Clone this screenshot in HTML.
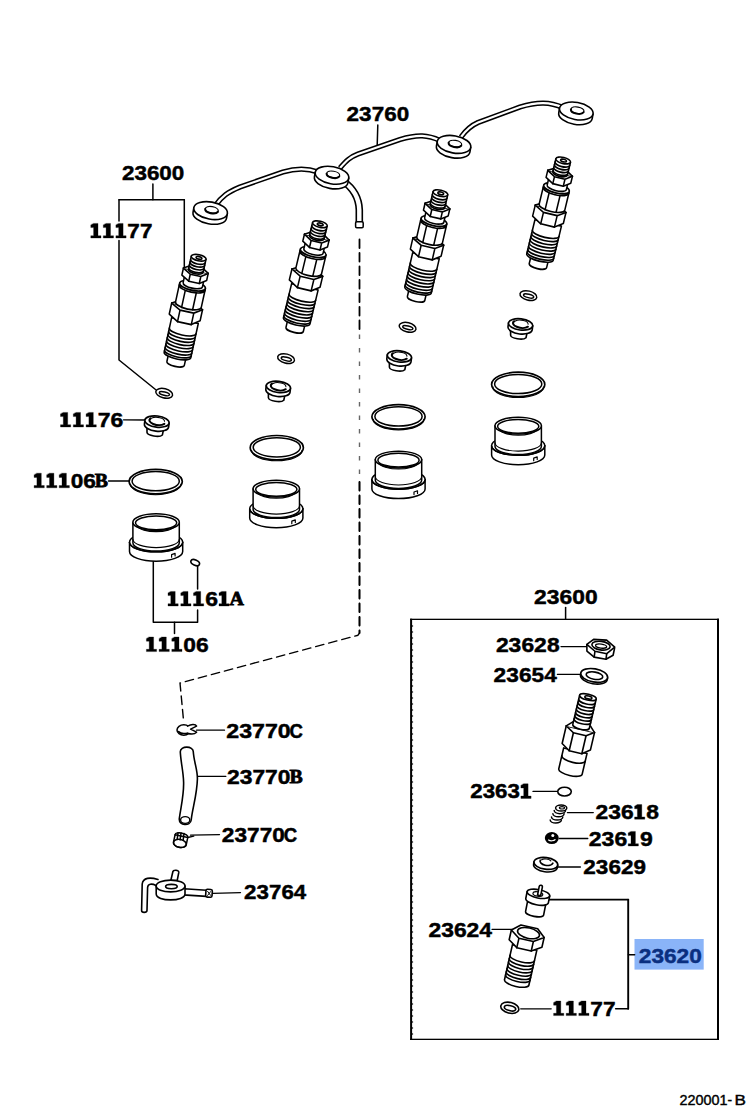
<!DOCTYPE html>
<html><head><meta charset="utf-8"><title>23600 diagram</title>
<style>
html,body{margin:0;padding:0;background:#fff;}
body{width:756px;height:1108px;overflow:hidden;font-family:"Liberation Sans",sans-serif;}
svg{display:block;}
svg text{font-family:"Liberation Sans",sans-serif;font-weight:bold;}
svg text.sf{font-family:"Liberation Serif",serif;stroke-width:0.8px;}
</style></head><body>
<svg width="756" height="1108" viewBox="0 0 756 1108" fill="none" stroke="#000" stroke-width="1.3" stroke-linecap="round" stroke-linejoin="round">
<rect x="0" y="0" width="756" height="1108" fill="#fff" stroke="none"/>
<g stroke="#000" stroke-width="0.45" fill="#000" stroke-linejoin="miter">
<rect x="634.5" y="939" width="69.2" height="30.6" fill="#8ab4f8" stroke="none"/>
<g fill="#000" stroke="#000"><text x="121.9" y="179.8" font-size="20.4" textLength="12.5" lengthAdjust="spacingAndGlyphs">2</text><text x="134.4" y="179.8" font-size="20.4" textLength="12.5" lengthAdjust="spacingAndGlyphs">3</text><text x="146.9" y="179.8" font-size="20.4" textLength="12.5" lengthAdjust="spacingAndGlyphs">6</text><text x="159.3" y="179.8" font-size="20.4" textLength="12.5" lengthAdjust="spacingAndGlyphs">0</text><text x="171.8" y="179.8" font-size="20.4" textLength="12.5" lengthAdjust="spacingAndGlyphs">0</text></g>
<g fill="#000" stroke="#000"><path stroke-width="0.3" d="M93.6,223.4 L98.0,223.4 L98.0,235.7 L101.0,235.7 L101.0,238.0 L90.8,238.0 L90.8,235.7 L93.6,235.7 L93.6,227.6 L90.8,227.6 L90.8,225.1Z"/><path stroke-width="0.3" d="M106.1,223.4 L110.5,223.4 L110.5,235.7 L113.5,235.7 L113.5,238.0 L103.3,238.0 L103.3,235.7 L106.1,235.7 L106.1,227.6 L103.3,227.6 L103.3,225.1Z"/><path stroke-width="0.3" d="M118.7,223.4 L123.1,223.4 L123.1,235.7 L126.1,235.7 L126.1,238.0 L115.9,238.0 L115.9,235.7 L118.7,235.7 L118.7,227.6 L115.9,227.6 L115.9,225.1Z"/><text x="127.3" y="238.0" font-size="20.4" textLength="12.5" lengthAdjust="spacingAndGlyphs">7</text><text x="139.9" y="238.0" font-size="20.4" textLength="12.5" lengthAdjust="spacingAndGlyphs">7</text></g>
<g fill="#000" stroke="#000"><text x="346.6" y="120.8" font-size="20.4" textLength="12.5" lengthAdjust="spacingAndGlyphs">2</text><text x="359.1" y="120.8" font-size="20.4" textLength="12.5" lengthAdjust="spacingAndGlyphs">3</text><text x="371.7" y="120.8" font-size="20.4" textLength="12.5" lengthAdjust="spacingAndGlyphs">7</text><text x="384.2" y="120.8" font-size="20.4" textLength="12.5" lengthAdjust="spacingAndGlyphs">6</text><text x="396.8" y="120.8" font-size="20.4" textLength="12.5" lengthAdjust="spacingAndGlyphs">0</text></g>
<g fill="#000" stroke="#000"><path stroke-width="0.3" d="M63.3,412.4 L67.7,412.4 L67.7,424.7 L70.7,424.7 L70.7,427.0 L60.5,427.0 L60.5,424.7 L63.3,424.7 L63.3,416.6 L60.5,416.6 L60.5,414.1Z"/><path stroke-width="0.3" d="M76.1,412.4 L80.5,412.4 L80.5,424.7 L83.5,424.7 L83.5,427.0 L73.3,427.0 L73.3,424.7 L76.1,424.7 L76.1,416.6 L73.3,416.6 L73.3,414.1Z"/><path stroke-width="0.3" d="M88.9,412.4 L93.3,412.4 L93.3,424.7 L96.3,424.7 L96.3,427.0 L86.1,427.0 L86.1,424.7 L88.9,424.7 L88.9,416.6 L86.1,416.6 L86.1,414.1Z"/><text x="97.8" y="427.0" font-size="20.4" textLength="12.8" lengthAdjust="spacingAndGlyphs">7</text><text x="110.6" y="427.0" font-size="20.4" textLength="12.8" lengthAdjust="spacingAndGlyphs">6</text></g>
<g fill="#000" stroke="#000"><path stroke-width="0.3" d="M36.9,473.2 L41.3,473.2 L41.3,485.5 L44.3,485.5 L44.3,487.8 L34.1,487.8 L34.1,485.5 L36.9,485.5 L36.9,477.4 L34.1,477.4 L34.1,474.9Z"/><path stroke-width="0.3" d="M49.5,473.2 L53.9,473.2 L53.9,485.5 L56.9,485.5 L56.9,487.8 L46.7,487.8 L46.7,485.5 L49.5,485.5 L49.5,477.4 L46.7,477.4 L46.7,474.9Z"/><path stroke-width="0.3" d="M62.0,473.2 L66.4,473.2 L66.4,485.5 L69.4,485.5 L69.4,487.8 L59.2,487.8 L59.2,485.5 L62.0,485.5 L62.0,477.4 L59.2,477.4 L59.2,474.9Z"/><text x="70.7" y="487.8" font-size="20.4" textLength="12.6" lengthAdjust="spacingAndGlyphs">0</text><text x="83.2" y="487.8" font-size="20.4" textLength="12.6" lengthAdjust="spacingAndGlyphs">6</text><text class="sf" x="94.7" y="487.2" font-size="19" textLength="13.2" lengthAdjust="spacingAndGlyphs">B</text></g>
<g fill="#000" stroke="#000"><path stroke-width="0.3" d="M170.8,591.4 L175.2,591.4 L175.2,603.7 L178.2,603.7 L178.2,606.0 L168.0,606.0 L168.0,603.7 L170.8,603.7 L170.8,595.6 L168.0,595.6 L168.0,593.1Z"/><path stroke-width="0.3" d="M183.6,591.4 L188.0,591.4 L188.0,603.7 L191.0,603.7 L191.0,606.0 L180.8,606.0 L180.8,603.7 L183.6,603.7 L183.6,595.6 L180.8,595.6 L180.8,593.1Z"/><path stroke-width="0.3" d="M196.3,591.4 L200.7,591.4 L200.7,603.7 L203.7,603.7 L203.7,606.0 L193.5,606.0 L193.5,603.7 L196.3,603.7 L196.3,595.6 L193.5,595.6 L193.5,593.1Z"/><text x="205.2" y="606.0" font-size="20.4" textLength="12.8" lengthAdjust="spacingAndGlyphs">6</text><path stroke-width="0.3" d="M221.8,591.4 L226.2,591.4 L226.2,603.7 L229.2,603.7 L229.2,606.0 L219.0,606.0 L219.0,603.7 L221.8,603.7 L221.8,595.6 L219.0,595.6 L219.0,593.1Z"/><text class="sf" x="229.6" y="605.4" font-size="19" textLength="14.4" lengthAdjust="spacingAndGlyphs">A</text></g>
<g fill="#000" stroke="#000"><path stroke-width="0.3" d="M149.2,637.0 L153.6,637.0 L153.6,649.3 L156.6,649.3 L156.6,651.6 L146.4,651.6 L146.4,649.3 L149.2,649.3 L149.2,641.2 L146.4,641.2 L146.4,638.7Z"/><path stroke-width="0.3" d="M161.9,637.0 L166.3,637.0 L166.3,649.3 L169.3,649.3 L169.3,651.6 L159.1,651.6 L159.1,649.3 L161.9,649.3 L161.9,641.2 L159.1,641.2 L159.1,638.7Z"/><path stroke-width="0.3" d="M174.6,637.0 L179.0,637.0 L179.0,649.3 L182.0,649.3 L182.0,651.6 L171.8,651.6 L171.8,649.3 L174.6,649.3 L174.6,641.2 L171.8,641.2 L171.8,638.7Z"/><text x="183.3" y="651.6" font-size="20.4" textLength="12.7" lengthAdjust="spacingAndGlyphs">0</text><text x="196.0" y="651.6" font-size="20.4" textLength="12.7" lengthAdjust="spacingAndGlyphs">6</text></g>
<g fill="#000" stroke="#000"><text x="226.3" y="738.0" font-size="20.4" textLength="12.9" lengthAdjust="spacingAndGlyphs">2</text><text x="239.2" y="738.0" font-size="20.4" textLength="12.9" lengthAdjust="spacingAndGlyphs">3</text><text x="252.1" y="738.0" font-size="20.4" textLength="12.9" lengthAdjust="spacingAndGlyphs">7</text><text x="264.9" y="738.0" font-size="20.4" textLength="12.9" lengthAdjust="spacingAndGlyphs">7</text><text x="277.8" y="738.0" font-size="20.4" textLength="12.9" lengthAdjust="spacingAndGlyphs">0</text><text x="289.5" y="738.0" font-size="19.6" textLength="13.4" lengthAdjust="spacingAndGlyphs">C</text></g>
<g fill="#000" stroke="#000"><text x="227.1" y="784.0" font-size="20.4" textLength="12.7" lengthAdjust="spacingAndGlyphs">2</text><text x="239.8" y="784.0" font-size="20.4" textLength="12.7" lengthAdjust="spacingAndGlyphs">3</text><text x="252.5" y="784.0" font-size="20.4" textLength="12.7" lengthAdjust="spacingAndGlyphs">7</text><text x="265.1" y="784.0" font-size="20.4" textLength="12.7" lengthAdjust="spacingAndGlyphs">7</text><text x="277.8" y="784.0" font-size="20.4" textLength="12.7" lengthAdjust="spacingAndGlyphs">0</text><text class="sf" x="289.4" y="783.4" font-size="19" textLength="13.2" lengthAdjust="spacingAndGlyphs">B</text></g>
<g fill="#000" stroke="#000"><text x="221.8" y="842.0" font-size="20.4" textLength="12.6" lengthAdjust="spacingAndGlyphs">2</text><text x="234.4" y="842.0" font-size="20.4" textLength="12.6" lengthAdjust="spacingAndGlyphs">3</text><text x="247.0" y="842.0" font-size="20.4" textLength="12.6" lengthAdjust="spacingAndGlyphs">7</text><text x="259.7" y="842.0" font-size="20.4" textLength="12.6" lengthAdjust="spacingAndGlyphs">7</text><text x="272.3" y="842.0" font-size="20.4" textLength="12.6" lengthAdjust="spacingAndGlyphs">0</text><text x="283.7" y="842.0" font-size="19.6" textLength="13.4" lengthAdjust="spacingAndGlyphs">C</text></g>
<g fill="#000" stroke="#000"><text x="244.1" y="899.2" font-size="20.4" textLength="12.4" lengthAdjust="spacingAndGlyphs">2</text><text x="256.5" y="899.2" font-size="20.4" textLength="12.4" lengthAdjust="spacingAndGlyphs">3</text><text x="268.9" y="899.2" font-size="20.4" textLength="12.4" lengthAdjust="spacingAndGlyphs">7</text><text x="281.4" y="899.2" font-size="20.4" textLength="12.4" lengthAdjust="spacingAndGlyphs">6</text><text x="293.8" y="899.2" font-size="20.4" textLength="12.4" lengthAdjust="spacingAndGlyphs">4</text></g>
<g fill="#000" stroke="#000"><text x="534.1" y="603.6" font-size="20.4" textLength="12.7" lengthAdjust="spacingAndGlyphs">2</text><text x="546.8" y="603.6" font-size="20.4" textLength="12.7" lengthAdjust="spacingAndGlyphs">3</text><text x="559.6" y="603.6" font-size="20.4" textLength="12.7" lengthAdjust="spacingAndGlyphs">6</text><text x="572.3" y="603.6" font-size="20.4" textLength="12.7" lengthAdjust="spacingAndGlyphs">0</text><text x="585.1" y="603.6" font-size="20.4" textLength="12.7" lengthAdjust="spacingAndGlyphs">0</text></g>
<g fill="#000" stroke="#000"><text x="495.9" y="652.2" font-size="20.4" textLength="12.7" lengthAdjust="spacingAndGlyphs">2</text><text x="508.6" y="652.2" font-size="20.4" textLength="12.7" lengthAdjust="spacingAndGlyphs">3</text><text x="521.4" y="652.2" font-size="20.4" textLength="12.7" lengthAdjust="spacingAndGlyphs">6</text><text x="534.1" y="652.2" font-size="20.4" textLength="12.7" lengthAdjust="spacingAndGlyphs">2</text><text x="546.9" y="652.2" font-size="20.4" textLength="12.7" lengthAdjust="spacingAndGlyphs">8</text></g>
<g fill="#000" stroke="#000"><text x="493.6" y="681.6" font-size="20.4" textLength="12.6" lengthAdjust="spacingAndGlyphs">2</text><text x="506.2" y="681.6" font-size="20.4" textLength="12.6" lengthAdjust="spacingAndGlyphs">3</text><text x="518.9" y="681.6" font-size="20.4" textLength="12.6" lengthAdjust="spacingAndGlyphs">6</text><text x="531.5" y="681.6" font-size="20.4" textLength="12.6" lengthAdjust="spacingAndGlyphs">5</text><text x="544.2" y="681.6" font-size="20.4" textLength="12.6" lengthAdjust="spacingAndGlyphs">4</text></g>
<g fill="#000" stroke="#000"><text x="470.3" y="798.4" font-size="20.4" textLength="12.4" lengthAdjust="spacingAndGlyphs">2</text><text x="482.7" y="798.4" font-size="20.4" textLength="12.4" lengthAdjust="spacingAndGlyphs">3</text><text x="495.1" y="798.4" font-size="20.4" textLength="12.4" lengthAdjust="spacingAndGlyphs">6</text><text x="507.4" y="798.4" font-size="20.4" textLength="12.4" lengthAdjust="spacingAndGlyphs">3</text><path stroke-width="0.3" d="M523.7,783.8 L528.1,783.8 L528.1,796.1 L531.1,796.1 L531.1,798.4 L520.9,798.4 L520.9,796.1 L523.7,796.1 L523.7,788.0 L520.9,788.0 L520.9,785.5Z"/></g>
<g fill="#000" stroke="#000"><text x="595.5" y="819.2" font-size="20.4" textLength="12.7" lengthAdjust="spacingAndGlyphs">2</text><text x="608.2" y="819.2" font-size="20.4" textLength="12.7" lengthAdjust="spacingAndGlyphs">3</text><text x="620.9" y="819.2" font-size="20.4" textLength="12.7" lengthAdjust="spacingAndGlyphs">6</text><path stroke-width="0.3" d="M637.4,804.6 L641.8,804.6 L641.8,816.9 L644.8,816.9 L644.8,819.2 L634.6,819.2 L634.6,816.9 L637.4,816.9 L637.4,808.8 L634.6,808.8 L634.6,806.3Z"/><text x="646.2" y="819.2" font-size="20.4" textLength="12.7" lengthAdjust="spacingAndGlyphs">8</text></g>
<g fill="#000" stroke="#000"><text x="588.8" y="846.0" font-size="20.4" textLength="12.8" lengthAdjust="spacingAndGlyphs">2</text><text x="601.6" y="846.0" font-size="20.4" textLength="12.8" lengthAdjust="spacingAndGlyphs">3</text><text x="614.4" y="846.0" font-size="20.4" textLength="12.8" lengthAdjust="spacingAndGlyphs">6</text><path stroke-width="0.3" d="M631.0,831.4 L635.4,831.4 L635.4,843.7 L638.4,843.7 L638.4,846.0 L628.2,846.0 L628.2,843.7 L631.0,843.7 L631.0,835.6 L628.2,835.6 L628.2,833.1Z"/><text x="639.9" y="846.0" font-size="20.4" textLength="12.8" lengthAdjust="spacingAndGlyphs">9</text></g>
<g fill="#000" stroke="#000"><text x="583.3" y="873.8" font-size="20.4" textLength="12.5" lengthAdjust="spacingAndGlyphs">2</text><text x="595.8" y="873.8" font-size="20.4" textLength="12.5" lengthAdjust="spacingAndGlyphs">3</text><text x="608.4" y="873.8" font-size="20.4" textLength="12.5" lengthAdjust="spacingAndGlyphs">6</text><text x="620.9" y="873.8" font-size="20.4" textLength="12.5" lengthAdjust="spacingAndGlyphs">2</text><text x="633.5" y="873.8" font-size="20.4" textLength="12.5" lengthAdjust="spacingAndGlyphs">9</text></g>
<g fill="#000" stroke="#000"><text x="428.5" y="937.0" font-size="20.4" textLength="12.7" lengthAdjust="spacingAndGlyphs">2</text><text x="441.2" y="937.0" font-size="20.4" textLength="12.7" lengthAdjust="spacingAndGlyphs">3</text><text x="453.9" y="937.0" font-size="20.4" textLength="12.7" lengthAdjust="spacingAndGlyphs">6</text><text x="466.5" y="937.0" font-size="20.4" textLength="12.7" lengthAdjust="spacingAndGlyphs">2</text><text x="479.2" y="937.0" font-size="20.4" textLength="12.7" lengthAdjust="spacingAndGlyphs">4</text></g>
<g fill="#000" stroke="#000"><path stroke-width="0.3" d="M556.4,1001.0 L560.8,1001.0 L560.8,1013.3 L563.8,1013.3 L563.8,1015.6 L553.6,1015.6 L553.6,1013.3 L556.4,1013.3 L556.4,1005.2 L553.6,1005.2 L553.6,1002.7Z"/><path stroke-width="0.3" d="M569.0,1001.0 L573.4,1001.0 L573.4,1013.3 L576.4,1013.3 L576.4,1015.6 L566.2,1015.6 L566.2,1013.3 L569.0,1013.3 L569.0,1005.2 L566.2,1005.2 L566.2,1002.7Z"/><path stroke-width="0.3" d="M581.6,1001.0 L586.0,1001.0 L586.0,1013.3 L589.0,1013.3 L589.0,1015.6 L578.8,1015.6 L578.8,1013.3 L581.6,1013.3 L581.6,1005.2 L578.8,1005.2 L578.8,1002.7Z"/><text x="590.3" y="1015.6" font-size="20.4" textLength="12.6" lengthAdjust="spacingAndGlyphs">7</text><text x="602.9" y="1015.6" font-size="20.4" textLength="12.6" lengthAdjust="spacingAndGlyphs">7</text></g>
<g fill="#0a2f80" stroke="#0a2f80"><text x="638.8" y="963.2" font-size="20.4" textLength="12.6" lengthAdjust="spacingAndGlyphs">2</text><text x="651.4" y="963.2" font-size="20.4" textLength="12.6" lengthAdjust="spacingAndGlyphs">3</text><text x="664.0" y="963.2" font-size="20.4" textLength="12.6" lengthAdjust="spacingAndGlyphs">6</text><text x="676.6" y="963.2" font-size="20.4" textLength="12.6" lengthAdjust="spacingAndGlyphs">2</text><text x="689.2" y="963.2" font-size="20.4" textLength="12.6" lengthAdjust="spacingAndGlyphs">0</text></g>
<g font-size="14" style="font-weight:normal" stroke-width="0.4" transform="translate(0,0.6)"><text x="679.6" y="1104.4" style="font-weight:normal" textLength="48" lengthAdjust="spacingAndGlyphs">220001</text><text x="727.6" y="1104.4" style="font-weight:normal" textLength="4.6" lengthAdjust="spacingAndGlyphs">-</text><text x="734.4" y="1104.4" style="font-weight:normal" textLength="11.4" lengthAdjust="spacingAndGlyphs">B</text></g>
</g>
<path d="M152.9,184.0 L152.9,199.7" stroke-width="1.5"/>
<path d="M119.0,199.7 L184.3,199.7" stroke-width="1.5"/>
<path d="M184.3,199.7 L184.3,268.0" stroke-width="1.5"/>
<path d="M119.0,199.7 L119.0,221.0" stroke-width="1.5"/>
<path d="M119.0,240.5 L119.0,360.0 L155.5,389.5" stroke-width="1.5"/>
<path d="M377.8,125.0 L377.2,145.5" stroke-width="1.5"/>
<path d="M123.5,419.8 L145.5,420.0" stroke-width="1.3"/>
<path d="M108.5,481.0 L129.5,481.0" stroke-width="1.3"/>
<path d="M153.3,561.5 L153.3,622.3 L197.6,622.3 L197.6,610.0" stroke-width="1.5"/>
<path d="M197.6,565.0 L197.6,589.0" stroke-width="1.5"/>
<path d="M174.5,622.3 L174.5,633.5" stroke-width="1.5"/>
<path d="M196.5,730.2 L224.5,730.2" stroke-width="1.3"/>
<path d="M197.5,776.4 L225.8,776.4" stroke-width="1.3"/>
<path d="M190.5,835.2 L219.5,834.6" stroke-width="1.3"/>
<path d="M213.0,893.3 L240.5,892.6" stroke-width="1.3"/>
<path d="M359.5,239.5 L359.5,333.0" stroke-width="1.8" stroke-dasharray="8.5 5"/>
<path d="M359.5,334.5 L359.5,481" stroke="#666" stroke-width="1.4" stroke-dasharray="4.5 9" stroke-linecap="butt"/>
<path d="M359.5,482.0 L359.5,633.0 L358.0,635.2 L180.0,683.0 L183.3,718.0" stroke-width="1.4" stroke-dasharray="8.5 5"/>
<path d="M359.5,482.0 L359.5,633.0" stroke-width="1.8" stroke-dasharray="8.5 5"/>
<g fill="#000" stroke="none"><rect x="410.1" y="618.7" width="308.9" height="1.3"/><rect x="410.1" y="1038.7" width="308.9" height="1.3"/><rect x="410.1" y="618.7" width="2" height="421.3"/><rect x="717" y="618.7" width="2" height="421.3"/><rect x="412" y="625.4" width="1.1" height="1.2"/><rect x="412" y="631.4" width="1.1" height="1.2"/><rect x="412" y="637.4" width="1.1" height="1.2"/><rect x="412" y="643.4" width="1.1" height="1.2"/><rect x="412" y="649.4" width="1.1" height="1.2"/><rect x="412" y="655.4" width="1.1" height="1.2"/><rect x="412" y="661.4" width="1.1" height="1.2"/><rect x="412" y="667.4" width="1.1" height="1.2"/><rect x="412" y="673.4" width="1.1" height="1.2"/><rect x="412" y="679.4" width="1.1" height="1.2"/><rect x="412" y="685.4" width="1.1" height="1.2"/><rect x="412" y="691.4" width="1.1" height="1.2"/><rect x="412" y="697.4" width="1.1" height="1.2"/><rect x="412" y="703.4" width="1.1" height="1.2"/><rect x="412" y="709.4" width="1.1" height="1.2"/><rect x="412" y="715.4" width="1.1" height="1.2"/><rect x="412" y="721.4" width="1.1" height="1.2"/><rect x="412" y="727.4" width="1.1" height="1.2"/><rect x="412" y="733.4" width="1.1" height="1.2"/><rect x="412" y="739.4" width="1.1" height="1.2"/><rect x="412" y="745.4" width="1.1" height="1.2"/><rect x="412" y="751.4" width="1.1" height="1.2"/><rect x="412" y="757.4" width="1.1" height="1.2"/><rect x="412" y="763.4" width="1.1" height="1.2"/><rect x="412" y="769.4" width="1.1" height="1.2"/><rect x="412" y="775.4" width="1.1" height="1.2"/><rect x="412" y="781.4" width="1.1" height="1.2"/><rect x="412" y="787.4" width="1.1" height="1.2"/><rect x="412" y="793.4" width="1.1" height="1.2"/><rect x="412" y="799.4" width="1.1" height="1.2"/><rect x="412" y="805.4" width="1.1" height="1.2"/><rect x="412" y="811.4" width="1.1" height="1.2"/><rect x="412" y="817.4" width="1.1" height="1.2"/><rect x="412" y="823.4" width="1.1" height="1.2"/><rect x="412" y="829.4" width="1.1" height="1.2"/><rect x="412" y="835.4" width="1.1" height="1.2"/><rect x="412" y="841.4" width="1.1" height="1.2"/><rect x="412" y="847.4" width="1.1" height="1.2"/><rect x="412" y="853.4" width="1.1" height="1.2"/><rect x="412" y="859.4" width="1.1" height="1.2"/><rect x="412" y="865.4" width="1.1" height="1.2"/><rect x="412" y="871.4" width="1.1" height="1.2"/><rect x="412" y="877.4" width="1.1" height="1.2"/><rect x="412" y="883.4" width="1.1" height="1.2"/><rect x="412" y="889.4" width="1.1" height="1.2"/><rect x="412" y="895.4" width="1.1" height="1.2"/><rect x="412" y="901.4" width="1.1" height="1.2"/><rect x="412" y="907.4" width="1.1" height="1.2"/><rect x="412" y="913.4" width="1.1" height="1.2"/><rect x="412" y="919.4" width="1.1" height="1.2"/><rect x="412" y="925.4" width="1.1" height="1.2"/><rect x="412" y="931.4" width="1.1" height="1.2"/><rect x="412" y="937.4" width="1.1" height="1.2"/><rect x="412" y="943.4" width="1.1" height="1.2"/><rect x="412" y="949.4" width="1.1" height="1.2"/><rect x="412" y="955.4" width="1.1" height="1.2"/><rect x="412" y="961.4" width="1.1" height="1.2"/><rect x="412" y="967.4" width="1.1" height="1.2"/><rect x="412" y="973.4" width="1.1" height="1.2"/><rect x="412" y="979.4" width="1.1" height="1.2"/><rect x="412" y="985.4" width="1.1" height="1.2"/><rect x="412" y="991.4" width="1.1" height="1.2"/><rect x="412" y="997.4" width="1.1" height="1.2"/><rect x="412" y="1003.4" width="1.1" height="1.2"/><rect x="412" y="1009.4" width="1.1" height="1.2"/><rect x="412" y="1015.4" width="1.1" height="1.2"/><rect x="412" y="1021.4" width="1.1" height="1.2"/><rect x="412" y="1027.4" width="1.1" height="1.2"/><rect x="412" y="1033.4" width="1.1" height="1.2"/></g>
<path d="M565.6,607.5 L565.6,619.0" stroke-width="1.5"/>
<path d="M561.0,646.6 L586.6,646.6" stroke-width="1.3"/>
<path d="M557.4,674.4 L579.9,674.4" stroke-width="1.3"/>
<path d="M533.0,791.4 L556.8,791.4" stroke-width="1.3"/>
<path d="M567.4,812.6 L593.3,812.6" stroke-width="1.3"/>
<path d="M559.3,838.5 L587.8,838.5" stroke-width="1.3"/>
<path d="M558.1,867.0 L580.4,867.0" stroke-width="1.3"/>
<path d="M492.0,929.3 L512.3,929.3" stroke-width="1.3"/>
<path d="M520.7,1008.8 L551.2,1008.8" stroke-width="1.3"/>
<path d="M548.9,899.6 L628.2,899.6" stroke-width="1.6"/>
<path d="M628.2,899.6 L628.2,1008.8" stroke-width="1.9"/>
<path d="M628.2,1008.8 L615.6,1008.8" stroke-width="1.5"/>
<path d="M628.4,954.7 L634.6,954.7" stroke-width="1.5"/>
<g transform="translate(199.3,254.8) rotate(12.3) scale(0.94,1.02)" stroke-width="1.63">
<path d="M-9.5,100 L-9.5,109 A9.5,3 0 0 0 9.5,109 L9.5,100Z" fill="#fff"/>
<path d="M-14.5,66 L-14.5,100.5 A14.5,4 0 0 0 14.5,100.5 L14.5,66Z" fill="#fff"/>
<path d="M-14.50,76.50 A14.50,4.00 0 0 0 14.50,76.50 M-14.50,79.70 A14.50,4.00 0 0 0 14.50,79.70 M-14.50,82.90 A14.50,4.00 0 0 0 14.50,82.90 M-14.50,86.10 A14.50,4.00 0 0 0 14.50,86.10 M-14.50,89.30 A14.50,4.00 0 0 0 14.50,89.30 M-14.50,92.50 A14.50,4.00 0 0 0 14.50,92.50 M-14.50,95.70 A14.50,4.00 0 0 0 14.50,95.70 M-14.50,98.50 A14.50,4.00 0 0 0 14.50,98.50 " fill="none"/>
<path d="M-17.8,52 L-17.8,63 L-7.5,68.5 L7.5,68.5 L15.8,63 L15.8,52Z" fill="#fff"/>
<path d="M-17.8,52 L-7.5,57 L7.5,57 L15.8,52 M-7.5,57 L-7.5,68.5 M7.5,57 L7.5,68.5" fill="none"/>
<path d="M-17.8,52 L-9.5,47.5 L8.5,47.5 L15.8,52" fill="#fff"/>
<path d="M-14,33 L-14,50 A14,4.5 0 0 0 14,50 L14,33Z" fill="#fff"/>
<path d="M-6.5,37 L-6.5,54 M5.5,37 L5.5,54" fill="none"/>
<path d="M-14,31 A14,4.5 0 0 0 14,31 L14,33 A14,4.5 0 0 1 -14,33Z" fill="#fff"/>
<path d="M-14.00,31.00 A14.00,4.50 0 1 0 14.00,31.00 A14.00,4.50 0 1 0 -14.00,31.00Z" fill="#fff"/>
<path d="M-10.5,22 L-10.5,30 A10.5,3.5 0 0 0 10.5,30 L10.5,22Z" fill="#fff"/>
<path d="M-13.5,16 L-13.5,23 L-5,27.5 L6.5,27.5 L13.5,23 L13.5,16Z" fill="#fff"/>
<path d="M-13.5,16 L-5,20.5 L6.5,20.5 L13.5,16 M-5,20.5 L-5,27.5 M6.5,20.5 L6.5,27.5" fill="none"/>
<path d="M-13.5,16 L-6.5,12 L6.5,12 L13.5,16" fill="#fff"/>
<path d="M-8,3 L-8,16 A8,3 0 0 0 8,16 L8,3Z" fill="#fff"/>
<path d="M-8.00,6.20 A8.00,3.00 0 0 0 8.00,6.20 M-8.00,9.00 A8.00,3.00 0 0 0 8.00,9.00 M-8.00,11.80 A8.00,3.00 0 0 0 8.00,11.80 M-8.00,14.60 A8.00,3.00 0 0 0 8.00,14.60 " fill="none"/>
<path d="M-8.00,3.00 A8.00,3.00 0 1 0 8.00,3.00 A8.00,3.00 0 1 0 -8.00,3.00Z" fill="#fff"/>
<path d="M-2.80,3.00 A3.20,1.30 0 1 0 3.60,3.00 A3.20,1.30 0 1 0 -2.80,3.00Z" fill="none"/>
</g>
<g transform="translate(320.6,221.3) rotate(13.5) scale(0.94,1.02)" stroke-width="1.63">
<path d="M-9.5,100 L-9.5,109 A9.5,3 0 0 0 9.5,109 L9.5,100Z" fill="#fff"/>
<path d="M-14.5,66 L-14.5,100.5 A14.5,4 0 0 0 14.5,100.5 L14.5,66Z" fill="#fff"/>
<path d="M-14.50,76.50 A14.50,4.00 0 0 0 14.50,76.50 M-14.50,79.70 A14.50,4.00 0 0 0 14.50,79.70 M-14.50,82.90 A14.50,4.00 0 0 0 14.50,82.90 M-14.50,86.10 A14.50,4.00 0 0 0 14.50,86.10 M-14.50,89.30 A14.50,4.00 0 0 0 14.50,89.30 M-14.50,92.50 A14.50,4.00 0 0 0 14.50,92.50 M-14.50,95.70 A14.50,4.00 0 0 0 14.50,95.70 M-14.50,98.50 A14.50,4.00 0 0 0 14.50,98.50 " fill="none"/>
<path d="M-17.8,52 L-17.8,63 L-7.5,68.5 L7.5,68.5 L15.8,63 L15.8,52Z" fill="#fff"/>
<path d="M-17.8,52 L-7.5,57 L7.5,57 L15.8,52 M-7.5,57 L-7.5,68.5 M7.5,57 L7.5,68.5" fill="none"/>
<path d="M-17.8,52 L-9.5,47.5 L8.5,47.5 L15.8,52" fill="#fff"/>
<path d="M-14,33 L-14,50 A14,4.5 0 0 0 14,50 L14,33Z" fill="#fff"/>
<path d="M-6.5,37 L-6.5,54 M5.5,37 L5.5,54" fill="none"/>
<path d="M-14,31 A14,4.5 0 0 0 14,31 L14,33 A14,4.5 0 0 1 -14,33Z" fill="#fff"/>
<path d="M-14.00,31.00 A14.00,4.50 0 1 0 14.00,31.00 A14.00,4.50 0 1 0 -14.00,31.00Z" fill="#fff"/>
<path d="M-10.5,22 L-10.5,30 A10.5,3.5 0 0 0 10.5,30 L10.5,22Z" fill="#fff"/>
<path d="M-13.5,16 L-13.5,23 L-5,27.5 L6.5,27.5 L13.5,23 L13.5,16Z" fill="#fff"/>
<path d="M-13.5,16 L-5,20.5 L6.5,20.5 L13.5,16 M-5,20.5 L-5,27.5 M6.5,20.5 L6.5,27.5" fill="none"/>
<path d="M-13.5,16 L-6.5,12 L6.5,12 L13.5,16" fill="#fff"/>
<path d="M-8,3 L-8,16 A8,3 0 0 0 8,16 L8,3Z" fill="#fff"/>
<path d="M-8.00,6.20 A8.00,3.00 0 0 0 8.00,6.20 M-8.00,9.00 A8.00,3.00 0 0 0 8.00,9.00 M-8.00,11.80 A8.00,3.00 0 0 0 8.00,11.80 M-8.00,14.60 A8.00,3.00 0 0 0 8.00,14.60 " fill="none"/>
<path d="M-8.00,3.00 A8.00,3.00 0 1 0 8.00,3.00 A8.00,3.00 0 1 0 -8.00,3.00Z" fill="#fff"/>
<path d="M-2.80,3.00 A3.20,1.30 0 1 0 3.60,3.00 A3.20,1.30 0 1 0 -2.80,3.00Z" fill="none"/>
</g>
<g transform="translate(441.1,190.2) rotate(13) scale(0.94,1.02)" stroke-width="1.63">
<path d="M-9.5,100 L-9.5,109 A9.5,3 0 0 0 9.5,109 L9.5,100Z" fill="#fff"/>
<path d="M-14.5,66 L-14.5,100.5 A14.5,4 0 0 0 14.5,100.5 L14.5,66Z" fill="#fff"/>
<path d="M-14.50,76.50 A14.50,4.00 0 0 0 14.50,76.50 M-14.50,79.70 A14.50,4.00 0 0 0 14.50,79.70 M-14.50,82.90 A14.50,4.00 0 0 0 14.50,82.90 M-14.50,86.10 A14.50,4.00 0 0 0 14.50,86.10 M-14.50,89.30 A14.50,4.00 0 0 0 14.50,89.30 M-14.50,92.50 A14.50,4.00 0 0 0 14.50,92.50 M-14.50,95.70 A14.50,4.00 0 0 0 14.50,95.70 M-14.50,98.50 A14.50,4.00 0 0 0 14.50,98.50 " fill="none"/>
<path d="M-17.8,52 L-17.8,63 L-7.5,68.5 L7.5,68.5 L15.8,63 L15.8,52Z" fill="#fff"/>
<path d="M-17.8,52 L-7.5,57 L7.5,57 L15.8,52 M-7.5,57 L-7.5,68.5 M7.5,57 L7.5,68.5" fill="none"/>
<path d="M-17.8,52 L-9.5,47.5 L8.5,47.5 L15.8,52" fill="#fff"/>
<path d="M-14,33 L-14,50 A14,4.5 0 0 0 14,50 L14,33Z" fill="#fff"/>
<path d="M-6.5,37 L-6.5,54 M5.5,37 L5.5,54" fill="none"/>
<path d="M-14,31 A14,4.5 0 0 0 14,31 L14,33 A14,4.5 0 0 1 -14,33Z" fill="#fff"/>
<path d="M-14.00,31.00 A14.00,4.50 0 1 0 14.00,31.00 A14.00,4.50 0 1 0 -14.00,31.00Z" fill="#fff"/>
<path d="M-10.5,22 L-10.5,30 A10.5,3.5 0 0 0 10.5,30 L10.5,22Z" fill="#fff"/>
<path d="M-13.5,16 L-13.5,23 L-5,27.5 L6.5,27.5 L13.5,23 L13.5,16Z" fill="#fff"/>
<path d="M-13.5,16 L-5,20.5 L6.5,20.5 L13.5,16 M-5,20.5 L-5,27.5 M6.5,20.5 L6.5,27.5" fill="none"/>
<path d="M-13.5,16 L-6.5,12 L6.5,12 L13.5,16" fill="#fff"/>
<path d="M-8,3 L-8,16 A8,3 0 0 0 8,16 L8,3Z" fill="#fff"/>
<path d="M-8.00,6.20 A8.00,3.00 0 0 0 8.00,6.20 M-8.00,9.00 A8.00,3.00 0 0 0 8.00,9.00 M-8.00,11.80 A8.00,3.00 0 0 0 8.00,11.80 M-8.00,14.60 A8.00,3.00 0 0 0 8.00,14.60 " fill="none"/>
<path d="M-8.00,3.00 A8.00,3.00 0 1 0 8.00,3.00 A8.00,3.00 0 1 0 -8.00,3.00Z" fill="#fff"/>
<path d="M-2.80,3.00 A3.20,1.30 0 1 0 3.60,3.00 A3.20,1.30 0 1 0 -2.80,3.00Z" fill="none"/>
</g>
<g transform="translate(563.9,157.5) rotate(13.5) scale(0.94,1.02)" stroke-width="1.63">
<path d="M-9.5,100 L-9.5,109 A9.5,3 0 0 0 9.5,109 L9.5,100Z" fill="#fff"/>
<path d="M-14.5,66 L-14.5,100.5 A14.5,4 0 0 0 14.5,100.5 L14.5,66Z" fill="#fff"/>
<path d="M-14.50,76.50 A14.50,4.00 0 0 0 14.50,76.50 M-14.50,79.70 A14.50,4.00 0 0 0 14.50,79.70 M-14.50,82.90 A14.50,4.00 0 0 0 14.50,82.90 M-14.50,86.10 A14.50,4.00 0 0 0 14.50,86.10 M-14.50,89.30 A14.50,4.00 0 0 0 14.50,89.30 M-14.50,92.50 A14.50,4.00 0 0 0 14.50,92.50 M-14.50,95.70 A14.50,4.00 0 0 0 14.50,95.70 M-14.50,98.50 A14.50,4.00 0 0 0 14.50,98.50 " fill="none"/>
<path d="M-17.8,52 L-17.8,63 L-7.5,68.5 L7.5,68.5 L15.8,63 L15.8,52Z" fill="#fff"/>
<path d="M-17.8,52 L-7.5,57 L7.5,57 L15.8,52 M-7.5,57 L-7.5,68.5 M7.5,57 L7.5,68.5" fill="none"/>
<path d="M-17.8,52 L-9.5,47.5 L8.5,47.5 L15.8,52" fill="#fff"/>
<path d="M-14,33 L-14,50 A14,4.5 0 0 0 14,50 L14,33Z" fill="#fff"/>
<path d="M-6.5,37 L-6.5,54 M5.5,37 L5.5,54" fill="none"/>
<path d="M-14,31 A14,4.5 0 0 0 14,31 L14,33 A14,4.5 0 0 1 -14,33Z" fill="#fff"/>
<path d="M-14.00,31.00 A14.00,4.50 0 1 0 14.00,31.00 A14.00,4.50 0 1 0 -14.00,31.00Z" fill="#fff"/>
<path d="M-10.5,22 L-10.5,30 A10.5,3.5 0 0 0 10.5,30 L10.5,22Z" fill="#fff"/>
<path d="M-13.5,16 L-13.5,23 L-5,27.5 L6.5,27.5 L13.5,23 L13.5,16Z" fill="#fff"/>
<path d="M-13.5,16 L-5,20.5 L6.5,20.5 L13.5,16 M-5,20.5 L-5,27.5 M6.5,20.5 L6.5,27.5" fill="none"/>
<path d="M-13.5,16 L-6.5,12 L6.5,12 L13.5,16" fill="#fff"/>
<path d="M-8,3 L-8,16 A8,3 0 0 0 8,16 L8,3Z" fill="#fff"/>
<path d="M-8.00,6.20 A8.00,3.00 0 0 0 8.00,6.20 M-8.00,9.00 A8.00,3.00 0 0 0 8.00,9.00 M-8.00,11.80 A8.00,3.00 0 0 0 8.00,11.80 M-8.00,14.60 A8.00,3.00 0 0 0 8.00,14.60 " fill="none"/>
<path d="M-8.00,3.00 A8.00,3.00 0 1 0 8.00,3.00 A8.00,3.00 0 1 0 -8.00,3.00Z" fill="#fff"/>
<path d="M-2.80,3.00 A3.20,1.30 0 1 0 3.60,3.00 A3.20,1.30 0 1 0 -2.80,3.00Z" fill="none"/>
</g>
<g transform="translate(164.2,393.3) rotate(14)" stroke-width="1.5"><ellipse rx="8.6" ry="4.6" fill="#fff"/><ellipse rx="5.199999999999999" ry="1.6999999999999997" cx="0.3" cy="0.3"/></g>
<g transform="translate(286.1,358.6) rotate(14)" stroke-width="1.5"><ellipse rx="8.6" ry="4.6" fill="#fff"/><ellipse rx="5.199999999999999" ry="1.6999999999999997" cx="0.3" cy="0.3"/></g>
<g transform="translate(407.6,327.3) rotate(14)" stroke-width="1.5"><ellipse rx="8.6" ry="4.6" fill="#fff"/><ellipse rx="5.199999999999999" ry="1.6999999999999997" cx="0.3" cy="0.3"/></g>
<g transform="translate(528.4,295.6) rotate(14)" stroke-width="1.5"><ellipse rx="8.6" ry="4.6" fill="#fff"/><ellipse rx="5.199999999999999" ry="1.6999999999999997" cx="0.3" cy="0.3"/></g>
<g transform="translate(157,421.6) rotate(7)" stroke-width="1.6"><path d="M-9.6,4 L-8.6,12 A8,3 0 0 0 7,12.6 L7.6,5Z" fill="#fff"/><path d="M-12.2,0 L-12.2,4 A12.2,5.6 0 0 0 12.2,4 L12.2,0Z" fill="#fff"/><ellipse rx="12.2" ry="5.6" fill="#fff"/><path d="M-6.6,-2.4 A7.2,3.4 0 0 0 7.6,1.4" stroke-width="2"/><path d="M-5.6,-2.8 A7,3.2 0 0 1 7.4,-1.2" stroke-width="1.1"/></g>
<g transform="translate(278.4,386.9) rotate(7)" stroke-width="1.6"><path d="M-9.6,4 L-8.6,12 A8,3 0 0 0 7,12.6 L7.6,5Z" fill="#fff"/><path d="M-12.2,0 L-12.2,4 A12.2,5.6 0 0 0 12.2,4 L12.2,0Z" fill="#fff"/><ellipse rx="12.2" ry="5.6" fill="#fff"/><path d="M-6.6,-2.4 A7.2,3.4 0 0 0 7.6,1.4" stroke-width="2"/><path d="M-5.6,-2.8 A7,3.2 0 0 1 7.4,-1.2" stroke-width="1.1"/></g>
<g transform="translate(399.4,356.4) rotate(7)" stroke-width="1.6"><path d="M-9.6,4 L-8.6,12 A8,3 0 0 0 7,12.6 L7.6,5Z" fill="#fff"/><path d="M-12.2,0 L-12.2,4 A12.2,5.6 0 0 0 12.2,4 L12.2,0Z" fill="#fff"/><ellipse rx="12.2" ry="5.6" fill="#fff"/><path d="M-6.6,-2.4 A7.2,3.4 0 0 0 7.6,1.4" stroke-width="2"/><path d="M-5.6,-2.8 A7,3.2 0 0 1 7.4,-1.2" stroke-width="1.1"/></g>
<g transform="translate(520.6,324.4) rotate(7)" stroke-width="1.6"><path d="M-9.6,4 L-8.6,12 A8,3 0 0 0 7,12.6 L7.6,5Z" fill="#fff"/><path d="M-12.2,0 L-12.2,4 A12.2,5.6 0 0 0 12.2,4 L12.2,0Z" fill="#fff"/><ellipse rx="12.2" ry="5.6" fill="#fff"/><path d="M-6.6,-2.4 A7.2,3.4 0 0 0 7.6,1.4" stroke-width="2"/><path d="M-5.6,-2.8 A7,3.2 0 0 1 7.4,-1.2" stroke-width="1.1"/></g>
<g transform="translate(155.7,481.6)" stroke-width="1.5"><ellipse rx="26.6" ry="12.2" fill="#fff" stroke-width="1.7"/><ellipse rx="23.6" ry="9.6" cy="-0.4"/><path d="M-25.2,2.5 A25,10.5 0 0 0 25.2,2.5" stroke-width="1.1"/></g>
<g transform="translate(276.8,447.7)" stroke-width="1.5"><ellipse rx="26.6" ry="12.2" fill="#fff" stroke-width="1.7"/><ellipse rx="23.6" ry="9.6" cy="-0.4"/><path d="M-25.2,2.5 A25,10.5 0 0 0 25.2,2.5" stroke-width="1.1"/></g>
<g transform="translate(398.5,416.8)" stroke-width="1.5"><ellipse rx="26.6" ry="12.2" fill="#fff" stroke-width="1.7"/><ellipse rx="23.6" ry="9.6" cy="-0.4"/><path d="M-25.2,2.5 A25,10.5 0 0 0 25.2,2.5" stroke-width="1.1"/></g>
<g transform="translate(518.2,384.4)" stroke-width="1.5"><ellipse rx="26.6" ry="12.2" fill="#fff" stroke-width="1.7"/><ellipse rx="23.6" ry="9.6" cy="-0.4"/><path d="M-25.2,2.5 A25,10.5 0 0 0 25.2,2.5" stroke-width="1.1"/></g>
<g transform="translate(156.1,522.2)" stroke-width="1.5"><path d="M-26.6,20 L-26.6,29.4 A26.6,9.6 0 0 0 26.6,29.4 L26.6,20 A26.6,9.6 0 0 1 -26.6,20Z" fill="#fff"/><path d="M-26.6,20 A26.6,9.6 0 0 0 26.6,20"/><path d="M-26.6,20 A26.6,9.6 0 0 1 26.6,20" fill="#fff"/><path d="M15.5,35 L15.5,32.4 L19,31.2 L19,33.8" stroke-width="1.2"/><path d="M-23.2,0 L-23.2,20.5 A23.2,8.4 0 0 0 23.2,20.5 L23.2,0Z" fill="#fff"/><path d="M-23.2,17 A23.2,8.4 0 0 0 23.2,17" stroke-width="1.1"/><ellipse rx="23.2" ry="8.4" fill="#fff"/><ellipse rx="20.6" ry="6.9" cy="0.6"/><path d="M-19,4 A19.5,7 0 0 0 19,4" stroke-width="1.1"/></g>
<g transform="translate(276.3,488.7)" stroke-width="1.5"><path d="M-26.6,20 L-26.6,29.4 A26.6,9.6 0 0 0 26.6,29.4 L26.6,20 A26.6,9.6 0 0 1 -26.6,20Z" fill="#fff"/><path d="M-26.6,20 A26.6,9.6 0 0 0 26.6,20"/><path d="M-26.6,20 A26.6,9.6 0 0 1 26.6,20" fill="#fff"/><path d="M15.5,35 L15.5,32.4 L19,31.2 L19,33.8" stroke-width="1.2"/><path d="M-23.2,0 L-23.2,20.5 A23.2,8.4 0 0 0 23.2,20.5 L23.2,0Z" fill="#fff"/><path d="M-23.2,17 A23.2,8.4 0 0 0 23.2,17" stroke-width="1.1"/><ellipse rx="23.2" ry="8.4" fill="#fff"/><ellipse rx="20.6" ry="6.9" cy="0.6"/><path d="M-19,4 A19.5,7 0 0 0 19,4" stroke-width="1.1"/></g>
<g transform="translate(398.5,459.6)" stroke-width="1.5"><path d="M-26.6,20 L-26.6,29.4 A26.6,9.6 0 0 0 26.6,29.4 L26.6,20 A26.6,9.6 0 0 1 -26.6,20Z" fill="#fff"/><path d="M-26.6,20 A26.6,9.6 0 0 0 26.6,20"/><path d="M-26.6,20 A26.6,9.6 0 0 1 26.6,20" fill="#fff"/><path d="M15.5,35 L15.5,32.4 L19,31.2 L19,33.8" stroke-width="1.2"/><path d="M-23.2,0 L-23.2,20.5 A23.2,8.4 0 0 0 23.2,20.5 L23.2,0Z" fill="#fff"/><path d="M-23.2,17 A23.2,8.4 0 0 0 23.2,17" stroke-width="1.1"/><ellipse rx="23.2" ry="8.4" fill="#fff"/><ellipse rx="20.6" ry="6.9" cy="0.6"/><path d="M-19,4 A19.5,7 0 0 0 19,4" stroke-width="1.1"/></g>
<g transform="translate(518.2,425.7)" stroke-width="1.5"><path d="M-26.6,20 L-26.6,29.4 A26.6,9.6 0 0 0 26.6,29.4 L26.6,20 A26.6,9.6 0 0 1 -26.6,20Z" fill="#fff"/><path d="M-26.6,20 A26.6,9.6 0 0 0 26.6,20"/><path d="M-26.6,20 A26.6,9.6 0 0 1 26.6,20" fill="#fff"/><path d="M15.5,35 L15.5,32.4 L19,31.2 L19,33.8" stroke-width="1.2"/><path d="M-23.2,0 L-23.2,20.5 A23.2,8.4 0 0 0 23.2,20.5 L23.2,0Z" fill="#fff"/><path d="M-23.2,17 A23.2,8.4 0 0 0 23.2,17" stroke-width="1.1"/><ellipse rx="23.2" ry="8.4" fill="#fff"/><ellipse rx="20.6" ry="6.9" cy="0.6"/><path d="M-19,4 A19.5,7 0 0 0 19,4" stroke-width="1.1"/></g>
<ellipse cx="195.2" cy="562.6" rx="4.6" ry="2.6" transform="rotate(25 195.2 562.6)" stroke-width="1.6" fill="#fff"/>
<path d="M215,206 C222,196 228,192 240,187 L283,172 C296,168 306,167.5 318,172" stroke="#000" stroke-width="5.2" stroke-linecap="butt"/>
<path d="M215,206 C222,196 228,192 240,187 L283,172 C296,168 306,167.5 318,172" stroke="#fff" stroke-width="2.2" stroke-linecap="butt"/>
<path d="M340,168 C346,161 350,157 358,154 L400,139.5 C418,134 428,135 440,140.5" stroke="#000" stroke-width="5.2" stroke-linecap="butt"/>
<path d="M340,168 C346,161 350,157 358,154 L400,139.5 C418,134 428,135 440,140.5" stroke="#fff" stroke-width="2.2" stroke-linecap="butt"/>
<path d="M461,137 C466,130 470,126 478,122.5 L520,107 C538,101.5 550,102 563,107.5" stroke="#000" stroke-width="5.2" stroke-linecap="butt"/>
<path d="M461,137 C466,130 470,126 478,122.5 L520,107 C538,101.5 550,102 563,107.5" stroke="#fff" stroke-width="2.2" stroke-linecap="butt"/>
<path d="M343,181 C353,188 359,198 359.3,210 L359.3,224" stroke="#000" stroke-width="7.6" stroke-linecap="butt"/>
<path d="M343,181 C353,188 359,198 359.3,210 L359.3,224" stroke="#fff" stroke-width="4.4" stroke-linecap="butt"/>
<rect x="355.6" y="221.8" width="7.6" height="6" rx="1.2" fill="#fff" stroke-width="1.5"/>
<g transform="translate(210.6,210.6) rotate(10)" stroke-width="1.6"><path d="M-17,0 L-17,4.8 A17,8.6 0 0 0 17,4.8 L17,0Z" fill="#fff"/><ellipse rx="17" ry="8.6" fill="#fff"/><ellipse cx="1" cy="-1" rx="6.6" ry="3.2" stroke-width="1.2"/><path d="M-5.6,-0.6 A6.6,3.4 0 0 0 7.4,0" stroke-width="2"/></g>
<g transform="translate(332,175.2) rotate(10)" stroke-width="1.6"><path d="M-17,0 L-17,4.8 A17,8.6 0 0 0 17,4.8 L17,0Z" fill="#fff"/><ellipse rx="17" ry="8.6" fill="#fff"/><ellipse cx="1" cy="-1" rx="6.6" ry="3.2" stroke-width="1.2"/><path d="M-5.6,-0.6 A6.6,3.4 0 0 0 7.4,0" stroke-width="2"/></g>
<g transform="translate(454,144.4) rotate(10)" stroke-width="1.6"><path d="M-17,0 L-17,4.8 A17,8.6 0 0 0 17,4.8 L17,0Z" fill="#fff"/><ellipse rx="17" ry="8.6" fill="#fff"/><ellipse cx="1" cy="-1" rx="6.6" ry="3.2" stroke-width="1.2"/><path d="M-5.6,-0.6 A6.6,3.4 0 0 0 7.4,0" stroke-width="2"/></g>
<g transform="translate(576.3,111) rotate(10)" stroke-width="1.6"><path d="M-17,0 L-17,4.8 A17,8.6 0 0 0 17,4.8 L17,0Z" fill="#fff"/><ellipse rx="17" ry="8.6" fill="#fff"/><ellipse cx="1" cy="-1" rx="6.6" ry="3.2" stroke-width="1.2"/><path d="M-5.6,-0.6 A6.6,3.4 0 0 0 7.4,0" stroke-width="2"/></g>
<g transform="translate(184.6,729.6)" stroke-width="1.5"><ellipse cx="-0.8" cy="0.4" rx="6.8" ry="5.2" fill="#fff"/><path d="M-6,2 A6.5,4 0 0 0 6,0.5"/><path d="M3,-3.5 C7,-6 11,-5.5 12,-3.5 L6,-0.5 L12,2.6 C10,4.6 6,4.6 3,3.6" fill="#fff"/></g>
<g transform="translate(180.6,840) rotate(12)" stroke-width="1.5"><path d="M-6.5,-4 L-6.5,3.5 A6.5,4 0 0 0 6.5,3.5 L6.5,-4Z" fill="#fff"/><ellipse cx="0" cy="3.5" rx="6.5" ry="4"/><path d="M-6.5,-4 A6.5,3 0 0 1 6.5,-4"/><path d="M-4,-6.5 L-3.5,0 M-1,-7 L-0.5,0 M2,-7 L2.5,-0.5"/><path d="M6.5,-4 L12,-6.5"/></g>
<path d="M180.3,752 C180,745.5 193.5,745.5 193.3,752 C194,762 197.6,770 197.4,779 C197,795 192.5,808 191.2,820 C190.5,826.5 178.5,826 179.3,818.5 C181,806 184,795 183.6,782 C183.4,772 180.8,762 180.3,752Z" fill="#fff" stroke-width="1.6"/>
<ellipse cx="185.2" cy="820" rx="4.6" ry="3.4" stroke-width="1.4"/>
<g stroke-width="1.6"><path d="M158,879.5 C150,877 143,877.5 142.2,884 L141.6,910.5 C141.6,913 146.8,913 147,910.5 L147.6,887.5 C147.8,883.5 152,883.4 156,885.5" fill="#fff"/><path d="M184,888.8 L206.5,890.2 L206.5,896.4 L183,894.9Z" fill="#fff"/><rect x="205.8" y="889.4" width="6.4" height="7.8" rx="1.6" fill="#fff" transform="rotate(4 209 893.3)"/><path d="M207.6,891.4 L210.6,895.4 M210.6,891.6 L207.6,895.4" stroke-width="1"/><path d="M170.8,880.5 L172.8,872 C173.2,869.4 179,869.8 178.8,872.4 L177.2,880.5Z" fill="#fff"/><path d="M156.2,886 L156.2,894 C156.2,901.8 185,901.8 185,894 L185,886Z" fill="#fff"/><ellipse cx="170.6" cy="886" rx="14.4" ry="5.9" fill="#fff"/><ellipse cx="171.4" cy="886.6" rx="5.8" ry="2.2"/></g>
<g transform="translate(600.7,646.4) rotate(8)" stroke-width="1.6"><path d="M-14,0 L-13,6.5 L-5,11.5 L7,12 L13.5,7 L14,0Z" fill="#fff"/><path d="M-5,5.6 L-5,11.5 M7,6.4 L7,12"/><path d="M-14,0 L-8,-6 L5,-7 L14,-1.2 L7,6.4 L-5,5.6Z" fill="#fff"/><ellipse cx="0.2" cy="-0.8" rx="9.2" ry="4.3"/><ellipse cx="0.4" cy="-0.4" rx="5.6" ry="2" stroke-width="1.3"/></g>
<g transform="translate(594.2,675.4) rotate(10)" stroke-width="1.6"><path d="M-13.6,0 L-13.6,1.8 A13.6,6.6 0 0 0 13.6,1.8 L13.6,0Z" fill="#fff"/><ellipse rx="13.6" ry="6.6" fill="#fff"/><ellipse cx="0.3" cy="0.2" rx="8.4" ry="3.6"/></g>
<g transform="translate(588.6,694.2) rotate(13.2) scale(1,1)" stroke-width="1.60">
<path d="M-12,58 L-12,79.5 A12,4 0 0 0 12,79.5 L12,58Z" fill="#fff"/>
<path d="M-12.00,66.00 A12.00,4.00 0 0 0 12.00,66.00" fill="none"/>
<path d="M-14.5,36 L-14.5,54 L-6,59.5 L7,59.5 L14.5,54 L14.5,36Z" fill="#fff"/>
<path d="M-6,41 L-6,59.5 M7,41 L7,59.5" fill="none"/>
<path d="M-14.5,36 L-6,41 L7,41 L14.5,36" fill="none"/>
<path d="M-14.5,36 L-9,30.5 L9,30.5 L14.5,36" fill="#fff"/>
<path d="M-8.5,3 L-8.5,33 A8.5,3 0 0 0 8.5,33 L8.5,3Z" fill="#fff"/>
<path d="M-8.50,7.00 A8.50,3.00 0 0 0 8.50,7.00 M-8.50,10.40 A8.50,3.00 0 0 0 8.50,10.40 M-8.50,13.80 A8.50,3.00 0 0 0 8.50,13.80 M-8.50,17.20 A8.50,3.00 0 0 0 8.50,17.20 M-8.50,20.60 A8.50,3.00 0 0 0 8.50,20.60 M-8.50,24.00 A8.50,3.00 0 0 0 8.50,24.00 M-8.50,27.40 A8.50,3.00 0 0 0 8.50,27.40 " fill="none"/>
<path d="M-8.50,3.00 A8.50,3.00 0 1 0 8.50,3.00 A8.50,3.00 0 1 0 -8.50,3.00Z" fill="#fff"/>
<path d="M-3.10,3.20 A3.60,1.50 0 1 0 4.10,3.20 A3.60,1.50 0 1 0 -3.10,3.20Z" fill="none"/>
</g>
<ellipse cx="564.5" cy="791.6" rx="6.8" ry="4.4" stroke-width="1.6" fill="#fff"/>
<g stroke-width="1.5"><ellipse cx="561.2" cy="808.0" rx="5.6" ry="3.1" fill="#fff"/><ellipse cx="562.0" cy="807.8" rx="2.6" ry="1.2" stroke-width="1.2"/><path d="M554.2,810.5 A5.6,3.1 0 0 0 565.5,810.5"/><path d="M552.9,813.7 A5.6,3.1 0 0 0 564.1,813.7"/><path d="M551.5,816.9 A5.6,3.1 0 0 0 562.8,816.9"/><path d="M550.2,820.0 A5.6,3.1 0 0 0 561.4,820.0"/></g>
<ellipse cx="551.8" cy="838.1" rx="6" ry="5" stroke-width="2" fill="#000"/>
<ellipse cx="552.8" cy="835.4" rx="1.5" ry="1.5" fill="#fff" stroke="none"/>
<path d="M548.6,840 A3.5,1.6 0 0 0 555,839.6" stroke="#fff" stroke-width="1.2"/>
<g transform="translate(545.7,864.4) rotate(8)" stroke-width="1.6"><path d="M-12,-1 L-12,1.6 A12,5.8 0 0 0 12,1.6 L12,-1Z" fill="#fff"/><ellipse cy="-1" rx="12" ry="5.8" fill="#fff"/><path d="M-6,-3.4 A6.4,3.6 0 1 0 7,-2.2"/><path d="M-4.6,-4 A5,2.2 0 0 1 4.6,-4.2" stroke-width="1.2"/></g>
<g transform="translate(538.4,893.8) rotate(11)" stroke-width="1.6"><path d="M-9.2,8 L-9.2,20 A9.2,3 0 0 0 9.2,20 L9.2,8Z" fill="#fff"/><path d="M-11.5,0 L-11.5,7 A11.5,4.2 0 0 0 11.5,7 L11.5,0Z" fill="#fff"/><ellipse rx="11.5" ry="4.2" fill="#fff"/><ellipse cx="-0.5" cy="0.3" rx="5" ry="2.2" stroke-width="1.2"/><path d="M-0.6,1.4 L-0.6,-7.4 C-0.6,-9.4 2.6,-9.4 2.6,-7.4 L2.6,1.4Z" fill="#fff"/></g>
<g transform="translate(528.2,931.8) rotate(12.8) scale(1,1)" stroke-width="1.60">
<path d="M-12.5,16 L-12.5,52 A12.5,4 0 0 0 12.5,52 L12.5,16Z" fill="#fff"/>
<path d="M-12.50,27.00 A12.50,4.00 0 0 0 12.50,27.00 M-12.50,30.40 A12.50,4.00 0 0 0 12.50,30.40 M-12.50,33.80 A12.50,4.00 0 0 0 12.50,33.80 M-12.50,37.20 A12.50,4.00 0 0 0 12.50,37.20 M-12.50,40.60 A12.50,4.00 0 0 0 12.50,40.60 M-12.50,44.00 A12.50,4.00 0 0 0 12.50,44.00 M-12.50,47.00 A12.50,4.00 0 0 0 12.50,47.00 " fill="none"/>
<path d="M-16.8,2 L-16.8,12 L-7.6,18 L7.2,18 L16.8,12 L16.8,2Z" fill="#fff"/>
<path d="M-7.6,8.4 L-7.6,18 M7.2,8.4 L7.2,18" fill="none"/>
<path d="M-16.8,2 L-8.6,-5 L8.6,-5 L16.8,2 L7.2,8.4 L-7.6,8.4Z" fill="#fff"/>
<path d="M-10.60,1.20 A11.20,5.20 0 1 0 11.80,1.20 A11.20,5.20 0 1 0 -10.60,1.20Z" fill="none"/>
</g>
<g transform="translate(509.8,1007.8) rotate(14)" stroke-width="1.6"><ellipse rx="9.2" ry="5.4" fill="#fff"/><ellipse rx="5.799999999999999" ry="2.5000000000000004" cx="0.3" cy="0.3"/></g>
</svg>
</body></html>
